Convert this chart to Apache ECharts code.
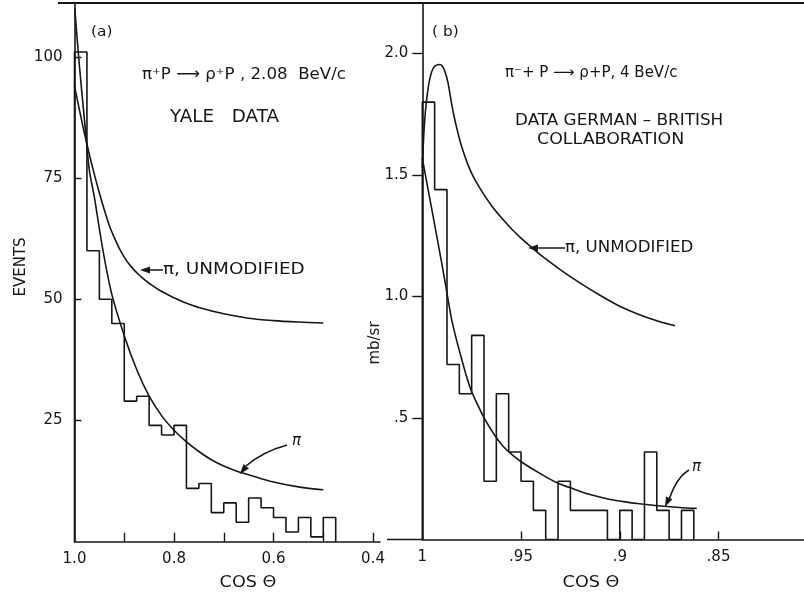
<!DOCTYPE html>
<html><head><meta charset="utf-8">
<script src="https://cdn.jsdelivr.net/npm/echarts@6/dist/echarts.min.js"></script>
<style>html,body{margin:0;padding:0;background:#fff}#c{width:804px;height:596px}</style>
</head><body><div id="c"></div>
<script>
// ---------- Panel (a): pi+ p -> rho+ p, 2.08 BeV/c (Yale data) ----------
const aBinStart = 1.0;
const aBinWidth = 0.025;
const aCounts = [101, 60, 50, 45, 29, 30, 24, 22, 24, 11, 12, 6, 8, 4, 9, 7, 5, 2, 5, 1, 5];
const aPiX = [0.9995, 0.99, 0.98, 0.975, 0.97, 0.96, 0.95, 0.94, 0.925, 0.9, 0.875, 0.85, 0.825, 0.8, 0.775, 0.75, 0.725, 0.7, 0.675, 0.65, 0.6, 0.55, 0.5];
const aPiY = [110, 98, 87, 81.5, 76.5, 71, 64.5, 58.5, 51, 42.5, 35.5, 30, 26, 23, 20.6, 18.6, 16.9, 15.6, 14.6, 13.8, 12.3, 11.3, 10.7];
const aUnX = [1.0, 0.99, 0.98, 0.97, 0.96, 0.95, 0.94, 0.93, 0.92, 0.91, 0.9, 0.89, 0.88, 0.87, 0.86, 0.85, 0.83, 0.8, 0.78, 0.75, 0.7, 0.65, 0.6, 0.55, 0.5];
const aUnY = [94, 89, 84.2, 79.8, 75.7, 71.9, 68.4, 65.2, 62.7, 60.5, 58.7, 57.2, 56.0, 55.0, 54.1, 53.3, 51.9, 50.3, 49.4, 48.3, 47.0, 46.1, 45.6, 45.3, 45.1];
const aXLabels = [1.0, 0.8, 0.6, 0.4];
const aXTicks = [0.9, 0.8, 0.7, 0.6, 0.5, 0.4];
const aYLabels = [25, 50, 75, 100];

// ---------- Panel (b): pi- p -> rho0 p, 4 BeV/c (German-British) ----------
const bBinStart = 1.0;
const bBinWidth = 0.00625;
const bValues = [1.80, 1.44, 0.72, 0.60, 0.84, 0.24, 0.60, 0.36, 0.24, 0.12, 0, 0.24, 0.12, 0.12, 0.12, 0, 0.12, 0, 0.36, 0.12, 0, 0.12];
const bPiX = [1.0, 0.995, 0.990, 0.987, 0.985, 0.981, 0.976, 0.972, 0.968, 0.963, 0.959, 0.954, 0.949, 0.940, 0.932, 0.923, 0.915, 0.906, 0.898, 0.890, 0.881, 0.870, 0.861];
const bPiY = [1.57, 1.35, 1.13, 0.99, 0.90, 0.77, 0.63, 0.555, 0.49, 0.425, 0.383, 0.345, 0.315, 0.27, 0.235, 0.207, 0.185, 0.167, 0.156, 0.147, 0.139, 0.132, 0.128];
const bUnX = [1.0, 0.999, 0.9978, 0.9961, 0.994, 0.9912, 0.990, 0.9885, 0.987, 0.9855, 0.984, 0.982, 0.980, 0.977, 0.974, 0.970, 0.965, 0.960, 0.955, 0.950, 0.945, 0.940, 0.930, 0.920, 0.910, 0.900, 0.890, 0.880, 0.872];
const bUnY = [1.53, 1.70, 1.81, 1.90, 1.945, 1.955, 1.95, 1.925, 1.88, 1.81, 1.745, 1.675, 1.615, 1.545, 1.49, 1.435, 1.375, 1.325, 1.28, 1.24, 1.205, 1.17, 1.11, 1.055, 1.005, 0.96, 0.925, 0.897, 0.88];
const bXLabels = [1, 0.95, 0.9, 0.85];
const bXTicks = [0.95, 0.9, 0.85];
const bYLabels = [0.5, 1.0, 1.5, 2.0];

// ---------- helpers ----------
function stepOutline(start, width, vals) {
  const pts = [[start, 0]];
  vals.forEach((v, i) => {
    const l = +(start - i * width).toFixed(6), r = +(start - (i + 1) * width).toFixed(6);
    pts.push([l, v], [r, v]);
  });
  pts.push([+(start - vals.length * width).toFixed(6), 0]);
  return pts;
}
const zip = (xs, ys) => xs.map((x, i) => [x, ys[i]]);

const INK = '#161616';
const FONT = 'DejaVu Sans';
const lbl = {color: INK, fontFamily: FONT, fontSize: 15};
const axisLine = {show: true, onZero: false, lineStyle: {color: INK, width: 1.6}};

const chart = echarts.init(document.getElementById('c'), null, {renderer: 'canvas'});

const lineSeries = (xi, data, smooth) => ({
  type: 'line', xAxisIndex: xi, yAxisIndex: xi, data: data,
  showSymbol: false, symbol: 'none', smooth: smooth ? 0.35 : false,
  lineStyle: {color: INK, width: 1.6}, silent: true, animation: false
});

chart.setOption({
  animation: false,
  backgroundColor: '#ffffff',
  grid: [
    {left: 74.5, top: 3, width: 305.5, height: 538.7},
    {left: 422.3, top: 3, right: 0, height: 536.5}
  ],
  xAxis: [
    {type: 'value', gridIndex: 0, inverse: true, min: 0.386, max: 1.0,
     axisLine: axisLine, splitLine: {show: false},
     axisTick: {show: true, inside: true, length: 9, lineStyle: {color: INK, width: 1.4}, customValues: aXTicks},
     axisLabel: Object.assign({customValues: aXLabels, margin: 10, formatter: v => v.toFixed(1)}, lbl)},
    {type: 'value', gridIndex: 1, inverse: true, min: 0.8067, max: 1.0,
     axisLine: axisLine, splitLine: {show: false},
     axisTick: {show: true, inside: true, length: 8, lineStyle: {color: INK, width: 1.4}, customValues: bXTicks},
     axisLabel: Object.assign({customValues: bXLabels, margin: 10,
       formatter: v => v === 1 ? '1' : String(v).replace(/^0/, '')}, lbl)}
  ],
  yAxis: [
    {type: 'value', gridIndex: 0, min: 0, max: 111.1,
     axisLine: axisLine, splitLine: {show: false},
     axisTick: {show: true, inside: true, length: 7, lineStyle: {color: INK, width: 1.4}, customValues: aYLabels},
     axisLabel: Object.assign({customValues: aYLabels, margin: 12}, lbl)},
    {type: 'value', gridIndex: 1, min: 0, max: 2.208,
     axisLine: axisLine, splitLine: {show: false},
     axisTick: {show: true, inside: false, length: 10, lineStyle: {color: INK, width: 1.4}, customValues: bYLabels},
     axisLabel: Object.assign({customValues: bYLabels, margin: 14,
       formatter: v => v < 1 ? '.5' : v.toFixed(1)}, lbl)}
  ],
  series: [
    lineSeries(0, stepOutline(aBinStart, aBinWidth, aCounts), false),
    lineSeries(0, zip(aPiX, aPiY), true),
    lineSeries(0, zip(aUnX, aUnY), true),
    lineSeries(1, stepOutline(bBinStart, bBinWidth, bValues), false),
    lineSeries(1, zip(bPiX, bPiY), true),
    lineSeries(1, zip(bUnX, bUnY), true)
  ]
});

// ---------- annotations ----------
function head(tip, from, len, half) {
  len = len || 10; half = half || 3.5;
  const dx = tip[0] - from[0], dy = tip[1] - from[1];
  const d = Math.hypot(dx, dy), ux = dx / d, uy = dy / d;
  const bx = tip[0] - ux * len, by = tip[1] - uy * len;
  return {type: 'polygon', shape: {points: [tip, [bx - uy * half, by + ux * half], [bx + uy * half, by - ux * half]]},
          style: {fill: INK}};
}
function txt(x, y, s, size, sx, extra) {
  return Object.assign({type: 'text', x: x, y: y, scaleX: sx || 1,
    style: {text: s, fill: INK, font: (size || 14) + 'px "DejaVu Sans"', textVerticalAlign: 'middle',
            textAlign: (extra && extra.align) || 'left'}}, (extra && extra.props) || {});
}
const g = [];
// frame top line and baseline stub between panels
g.push({type: 'line', shape: {x1: 58, y1: 3, x2: 804, y2: 3}, style: {stroke: INK, lineWidth: 2}});
g.push({type: 'line', shape: {x1: 387, y1: 539.5, x2: 422, y2: 539.5}, style: {stroke: INK, lineWidth: 1.6}});
// panel (a)
g.push(txt(91, 32, '(a)', 14, 1.1));
g.push(txt(142, 75, 'π⁺P ⟶ ρ⁺P , 2.08  BeV/c', 16, 1.04));
g.push(txt(170, 118, 'YALE   DATA', 17, 1.08));
g.push({type: 'line', shape: {x1: 147, y1: 270, x2: 163, y2: 270}, style: {stroke: INK, lineWidth: 1.5}});
g.push(head([140, 270], [163, 270]));
g.push(txt(163, 270, 'π, UNMODIFIED', 16, 1.15));
g.push(Object.assign(txt(292, 441, 'π', 15, 1), {style: {text: 'π', fill: INK, font: 'italic 15px "DejaVu Sans"', textVerticalAlign: 'middle'}}));
g.push({type: 'bezierCurve', shape: {x1: 287, y1: 445, x2: 246, y2: 466, cpx1: 262, cpy1: 452}, style: {stroke: INK, lineWidth: 1.5, fill: null}});
g.push(head([240, 474], [252, 459]));
g.push(txt(21, 267, 'EVENTS', 15, 1, {align: 'center', props: {rotation: Math.PI / 2}}));
g.push(txt(248, 583, 'COS Θ', 16, 1.1, {align: 'center'}));
// panel (b)
g.push(txt(432, 32, '( b)', 14, 1.1));
g.push(txt(505, 73, 'π⁻+ P ⟶ ρ+P, 4 BeV/c', 15, 1.0));
g.push(txt(515, 121, 'DATA GERMAN – BRITISH', 15, 1.12));
g.push(txt(537, 140, 'COLLABORATION', 15, 1.16));
g.push({type: 'line', shape: {x1: 535, y1: 248, x2: 565, y2: 248}, style: {stroke: INK, lineWidth: 1.5}});
g.push(head([528, 248], [565, 248]));
g.push(txt(565, 248, 'π, UNMODIFIED', 15, 1.11));
g.push(Object.assign(txt(692, 467, 'π', 15, 1), {style: {text: 'π', fill: INK, font: 'italic 15px "DejaVu Sans"', textVerticalAlign: 'middle'}}));
g.push({type: 'bezierCurve', shape: {x1: 689, y1: 470, x2: 669, y2: 500, cpx1: 676, cpy1: 478}, style: {stroke: INK, lineWidth: 1.5, fill: null}});
g.push(head([665, 507], [670, 496]));
g.push(txt(375, 343, 'mb/sr', 15, 1, {align: 'center', props: {rotation: Math.PI / 2}}));
g.push(txt(591, 583, 'COS Θ', 16, 1.1, {align: 'center'}));
chart.setOption({graphic: {elements: g}});
</script>
</body></html>
